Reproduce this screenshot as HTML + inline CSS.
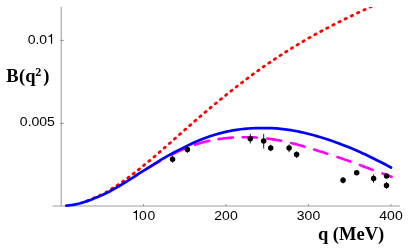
<!DOCTYPE html>
<html><head><meta charset="utf-8">
<style>
html,body{margin:0;padding:0;background:#fff;}
body{width:409px;height:249px;overflow:hidden;position:relative;font-family:"Liberation Sans",sans-serif;}
svg{position:absolute;left:0;top:0;will-change:transform;}
.t{font-family:"Liberation Sans",sans-serif;font-size:13.6px;fill:#000;}
.b{font-family:"Liberation Serif",serif;font-weight:bold;font-size:18.5px;fill:#000;}
</style></head><body>
<svg width="409" height="249" viewBox="0 0 409 249">
<defs>
<path id="one" d="M445,0 L362,0 L362,-520 L180,-520 L180,-570 C270,-580 335,-625 380,-716 L445,-716 Z"/>
<clipPath id="cp"><rect x="52" y="6.9" width="350" height="205"/></clipPath>
</defs>
<g stroke="#999" stroke-width="1" fill="none">
<line x1="61.2" y1="6.7" x2="61.2" y2="206.0"/>
<line x1="52.6" y1="206.0" x2="399.8" y2="206.0" stroke="#9c9c9c"/>
<line x1="60.7" y1="40.4" x2="63.6" y2="40.4" stroke="#808080"/>
<line x1="60.7" y1="123.4" x2="63.6" y2="123.4" stroke="#808080"/>
<line x1="143.5" y1="204.2" x2="143.5" y2="206.0" stroke="#8c8c8c"/>
<line x1="226" y1="204.2" x2="226" y2="206.0" stroke="#8c8c8c"/>
<line x1="308.5" y1="204.2" x2="308.5" y2="206.0" stroke="#8c8c8c"/>
<line x1="391" y1="204.2" x2="391" y2="206.0" stroke="#8c8c8c"/>
</g>
<g clip-path="url(#cp)" fill="none">
<path id="red" d="M87.25,200.82 L88.55,200.33 M93.36,198.34 L94.64,197.78 M99.37,195.65 L100.63,195.05 M106.04,192.28 L107.26,191.60 M111.57,189.02 L112.76,188.28 M117.04,185.49 L118.20,184.71 M122.45,181.78 L123.59,180.97 M127.81,177.90 L128.93,177.07 M133.12,173.90 L134.22,173.04 M138.38,169.78 L139.48,168.91 M143.61,165.57 L144.70,164.68 M148.81,161.28 L149.89,160.39 M153.98,156.94 L155.04,156.03 M159.12,152.52 L160.18,151.60 M164.24,148.06 L165.29,147.14 M169.35,143.57 L170.40,142.64 M174.44,139.06 L175.49,138.13 M179.52,134.55 L180.57,133.63 M184.60,130.06 L185.65,129.13 M189.69,125.59 L190.74,124.66 M194.77,121.15 L195.83,120.23 M199.87,116.75 L200.93,115.84 M204.98,112.40 L206.05,111.49 M210.11,108.07 L211.18,107.18 M215.26,103.78 L216.34,102.89 M220.44,99.53 L221.53,98.64 M225.65,95.30 L226.74,94.43 M230.90,91.12 L232.00,90.25 M236.19,86.98 L237.29,86.12 M241.51,82.87 L242.63,82.03 M246.88,78.82 L248.00,77.98 M252.29,74.81 L253.42,73.99 M257.74,70.86 L258.88,70.05 M263.24,66.97 L264.39,66.16 M268.78,63.13 L269.94,62.34 M274.36,59.36 L275.53,58.58 M279.99,55.65 L281.17,54.88 M285.67,52.00 L286.85,51.25 M291.39,48.42 L292.58,47.69 M297.15,44.91 L298.35,44.19 M302.97,41.46 L304.18,40.75 M308.83,38.08 L310.05,37.38 M314.74,34.76 L315.97,34.08 M320.70,31.50 L321.94,30.83 M326.71,28.30 L327.95,27.65 M332.78,25.15 L334.02,24.51 M338.89,22.05 L340.14,21.42 M345.05,19.00 L346.31,18.38 M351.27,15.98 L352.53,15.37 M357.54,12.98 L358.80,12.39 M363.86,10.01 L365.13,9.42 M370.24,7.04 L371.51,6.45 M376.44,4.18 L377.71,3.59" stroke="#f00" stroke-width="2.8" stroke-linecap="round"/>
<path id="mag" d="M146.50,169.10 L147.99,168.17 L149.48,167.25 L150.97,166.34 L152.46,165.43 L153.94,164.53 L155.43,163.64 L156.92,162.76 L158.41,161.88 L159.90,161.02 M170.40,155.26 L171.89,154.49 L173.38,153.74 L174.87,153.01 L176.36,152.29 L177.84,151.59 L179.33,150.90 L180.82,150.23 L182.31,149.57 L183.80,148.94 M194.88,144.75 L196.32,144.28 L197.76,143.82 L199.21,143.39 L200.65,142.97 L202.09,142.56 L203.53,142.18 L204.97,141.81 L206.42,141.45 L207.86,141.12 L209.30,140.79 M218.55,139.09 L219.99,138.88 L221.42,138.69 L222.86,138.50 L224.29,138.33 L225.73,138.17 L227.16,138.03 L228.59,137.90 L230.03,137.78 L231.47,137.67 L232.90,137.57 M242.65,137.20 L244.22,137.19 L245.79,137.19 L247.37,137.21 L248.94,137.23 L250.51,137.27 L252.08,137.33 L253.66,137.39 L255.23,137.47 L256.80,137.56 M267.20,138.52 L268.73,138.72 L270.27,138.93 L271.80,139.15 L273.33,139.39 L274.87,139.65 L276.40,139.92 L277.93,140.21 L279.47,140.51 L281.00,140.82 M291.20,143.04 L292.68,143.39 L294.16,143.76 L295.63,144.13 L297.11,144.52 L298.59,144.93 L300.07,145.34 L301.54,145.77 L303.02,146.20 L304.50,146.64 M314.15,149.56 L315.61,150.02 L317.07,150.47 L318.53,150.93 L319.99,151.39 L321.46,151.85 L322.92,152.32 L324.38,152.79 L325.84,153.26 L327.30,153.73 M337.40,157.08 L338.84,157.57 L340.29,158.06 L341.73,158.55 L343.18,159.05 L344.62,159.54 L346.07,160.04 L347.51,160.54 L348.96,161.05 L350.40,161.55 M359.90,165.09 L361.32,165.63 L362.74,166.17 L364.17,166.71 L365.59,167.25 L367.01,167.78 L368.43,168.30 L369.86,168.82 L371.28,169.35 L372.70,169.87 M382.40,173.44 L383.92,174.00 L385.45,174.56 L386.98,175.12 L388.50,175.67 L390.02,176.23 L391.55,176.79" stroke="#f0f" stroke-width="2.6" stroke-linecap="round"/>
<path id="blue" d="M66.30,205.55 L68.30,205.40 L70.31,205.18 L72.31,204.90 L74.32,204.56 L76.32,204.16 L78.33,203.71 L80.33,203.21 L82.33,202.65 L84.34,202.04 L86.34,201.39 L88.35,200.69 L90.35,199.95 L92.36,199.16 L94.36,198.36 L96.36,197.55 L98.37,196.72 L100.37,195.87 L102.38,194.99 L104.38,194.07 L106.39,193.11 L108.39,192.10 L110.40,191.03 L112.40,189.92 L114.40,188.79 L116.41,187.64 L118.41,186.47 L120.42,185.28 L122.42,184.06 L124.43,182.84 L126.43,181.60 L128.43,180.35 L130.44,179.09 L132.44,177.82 L134.45,176.54 L136.45,175.26 L138.46,173.97 L140.46,172.69 L142.46,171.40 L144.47,170.12 L146.47,168.84 L148.48,167.57 L150.48,166.30 L152.49,165.04 L154.49,163.80 L156.49,162.56 L158.50,161.34 L160.50,160.13 L162.51,158.93 L164.51,157.75 L166.52,156.59 L168.52,155.45 L170.52,154.35 L172.53,153.27 L174.53,152.20 L176.54,151.16 L178.54,150.13 L180.55,149.11 L182.55,148.10 L184.55,147.10 L186.56,146.10 L188.56,145.12 L190.57,144.17 L192.57,143.24 L194.58,142.34 L196.58,141.46 L198.59,140.61 L200.59,139.79 L202.59,138.99 L204.60,138.23 L206.60,137.48 L208.61,136.77 L210.61,136.08 L212.62,135.43 L214.62,134.80 L216.62,134.20 L218.63,133.63 L220.63,133.09 L222.64,132.58 L224.64,132.09 L226.65,131.64 L228.65,131.21 L230.65,130.82 L232.66,130.45 L234.66,130.11 L236.67,129.80 L238.67,129.51 L240.68,129.26 L242.68,129.03 L244.68,128.82 L246.69,128.65 L248.69,128.50 L250.70,128.37 L252.70,128.27 L254.71,128.20 L256.71,128.15 L258.71,128.13 L260.72,128.12 L262.72,128.11 L264.73,128.10 L266.73,128.08 L268.74,128.09 L270.74,128.12 L272.75,128.19 L274.75,128.30 L276.75,128.46 L278.76,128.64 L280.76,128.84 L282.77,129.07 L284.77,129.32 L286.78,129.59 L288.78,129.88 L290.78,130.19 L292.79,130.53 L294.79,130.89 L296.80,131.27 L298.80,131.67 L300.81,132.10 L302.81,132.54 L304.81,133.00 L306.82,133.48 L308.82,133.98 L310.83,134.49 L312.83,135.02 L314.84,135.57 L316.84,136.13 L318.84,136.71 L320.85,137.31 L322.85,137.93 L324.86,138.56 L326.86,139.20 L328.87,139.86 L330.87,140.54 L332.87,141.23 L334.88,141.93 L336.88,142.65 L338.89,143.39 L340.89,144.14 L342.90,144.90 L344.90,145.68 L346.90,146.47 L348.91,147.29 L350.91,148.12 L352.92,148.96 L354.92,149.82 L356.93,150.70 L358.93,151.59 L360.94,152.50 L362.94,153.41 L364.94,154.34 L366.95,155.28 L368.95,156.24 L370.96,157.21 L372.96,158.19 L374.97,159.19 L376.97,160.19 L378.97,161.21 L380.98,162.24 L382.98,163.27 L384.99,164.32 L386.99,165.38 L389.00,166.45 L391.00,167.53" stroke="#00f" stroke-width="2.7" stroke-linecap="round" stroke-linejoin="round"/>
</g>
<g fill="#000" stroke="#000" stroke-width="0.9" stroke-linecap="butt">
<line x1="172.55" y1="155.70" x2="172.55" y2="162.70"/>
<circle cx="172.55" cy="159.20" r="2.75" stroke="none"/>
<line x1="187.40" y1="146.10" x2="187.40" y2="152.90"/>
<circle cx="187.40" cy="149.50" r="2.75" stroke="none"/>
<line x1="250.30" y1="133.90" x2="250.30" y2="143.40"/>
<circle cx="250.30" cy="138.80" r="2.75" stroke="none"/>
<line x1="263.70" y1="133.90" x2="263.70" y2="148.50"/>
<circle cx="263.70" cy="141.10" r="2.75" stroke="none"/>
<line x1="270.70" y1="144.60" x2="270.70" y2="151.20"/>
<circle cx="270.70" cy="147.90" r="2.75" stroke="none"/>
<line x1="289.10" y1="144.40" x2="289.10" y2="152.20"/>
<circle cx="289.10" cy="147.90" r="2.75" stroke="none"/>
<line x1="296.60" y1="151.40" x2="296.60" y2="158.00"/>
<circle cx="296.60" cy="154.60" r="2.75" stroke="none"/>
<line x1="343.05" y1="177.00" x2="343.05" y2="183.40"/>
<circle cx="343.05" cy="180.20" r="2.75" stroke="none"/>
<circle cx="356.70" cy="172.70" r="2.75" stroke="none"/>
<line x1="373.60" y1="174.40" x2="373.60" y2="182.90"/>
<circle cx="373.60" cy="178.60" r="2.75" stroke="none"/>
<circle cx="386.55" cy="175.90" r="2.75" stroke="none"/>
<line x1="386.50" y1="182.20" x2="386.50" y2="188.80"/>
<circle cx="386.50" cy="185.40" r="2.75" stroke="none"/>
</g>
<!-- tick labels -->
<g class="t">
<g transform="translate(54.9,43.8) scale(1.03,1)">
  <text x="-7.56" y="0" text-anchor="end">0.0</text>
  <use href="#one" transform="translate(-8.76,0) scale(0.0136)"/>
</g>
<g transform="translate(54.9,126.35) scale(1.03,1)"><text x="0" y="0" text-anchor="end">0.005</text></g>
<g transform="translate(143.5,220.05) scale(1.03,1)">
  <use href="#one" transform="translate(-12.34,0) scale(0.0136)"/>
  <text x="-4.38" y="0">0</text><text x="3.78" y="0">0</text>
</g>
<g transform="translate(226,220.05) scale(1.03,1)"><text text-anchor="middle">200</text></g>
<g transform="translate(308.5,220.05) scale(1.03,1)"><text text-anchor="middle">300</text></g>
<g transform="translate(391,220.05) scale(1.03,1)"><text text-anchor="middle">400</text></g>
</g>
<g class="b">
<text x="6.2" y="82.2">B</text>
<text x="19.0" y="82.2">(q</text>
<text x="35.2" y="76.0" font-size="12.2">2</text>
<text x="43.3" y="82.2">)</text>
<text x="317.9" y="240">q (MeV)</text>
</g>
</svg>
</body></html>
